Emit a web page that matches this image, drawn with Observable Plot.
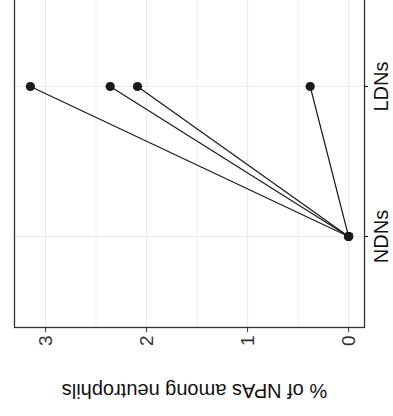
<!DOCTYPE html>
<html>
<head>
<meta charset="utf-8">
<script src="https://cdn.jsdelivr.net/npm/d3@7"></script>
<script src="https://cdn.jsdelivr.net/npm/@observablehq/plot@0.6"></script>
<style>
  html, body { margin: 0; padding: 0; background: #fff; width: 393px; height: 416px; overflow: hidden; }
  #wrap { position: absolute; left: 0; top: 0; width: 416px; height: 393px;
          transform-origin: 0 0; transform: translate(0px, 416px) rotate(-90deg); }
</style>
</head>
<body>
<div id="wrap"></div>
<script>
// Data
const groups = ["NDNs", "LDNs"];
const donors = ["D1", "D2", "D3", "D4"];
const ndnValues = [0, 0, 0, 0];
const ldnValues = [3.15, 2.36, 2.09, 0.38];
const yTicks = [0, 1, 2, 3];
const yMinorGrid = [0.5, 1.5, 2.5];
const yLabel = "% of NPAs among neutrophils";

const rows = [];
donors.forEach((d, i) => {
  rows.push({donor: d, group: groups[0], value: ndnValues[i]});
  rows.push({donor: d, group: groups[1], value: ldnValues[i]});
});

const W = 416, H = 393;
const mL = 88, mR = -3, mT = 14, mB = 29;
const vmax = d3.max(rows, d => d.value), vmin = d3.min(rows, d => d.value);
const pad = (vmax - vmin) * 0.05;

const chart = Plot.plot({
  width: W,
  height: H,
  marginLeft: mL,
  marginRight: mR,
  marginTop: mT,
  marginBottom: mB,
  style: {fontFamily: "'Liberation Sans', Arial, Helvetica, sans-serif", background: "#fff", overflow: "visible"},
  x: {type: "point", domain: groups, padding: 0.6, axis: null},
  y: {domain: [vmin - pad, vmax + pad], axis: null},
  marks: [
    Plot.ruleY(yMinorGrid, {stroke: "#ebebeb", strokeWidth: 0.8}),
    Plot.ruleY(yTicks, {stroke: "#ebebeb", strokeWidth: 1.1}),
    Plot.ruleX(groups, {stroke: "#ebebeb", strokeWidth: 1.1}),
    Plot.frame({stroke: "#333", strokeWidth: 1.3}),
    Plot.axisY({ticks: yTicks, tickSize: 4, tickPadding: 4, fontSize: 19, color: "#333", label: null, tickFormat: d3.format("d")}),
    Plot.axisX({tickSize: 4, tickPadding: 5, fontSize: 20, color: "#111", label: null}),
    Plot.text([yLabel], {frameAnchor: "left", textAnchor: "middle", lineAnchor: "middle", rotate: -90, dx: -63, dy: 5, fontSize: 20, fill: "#111", text: d => d}),
    Plot.line(rows, {x: "group", y: "value", z: "donor", stroke: "#1a1a1a", strokeWidth: 1.2}),
    Plot.dot(rows, {x: "group", y: "value", r: 4.6, fill: "#1a1a1a", stroke: "none"})
  ]
});
document.getElementById("wrap").appendChild(chart);
</script>
</body>
</html>
